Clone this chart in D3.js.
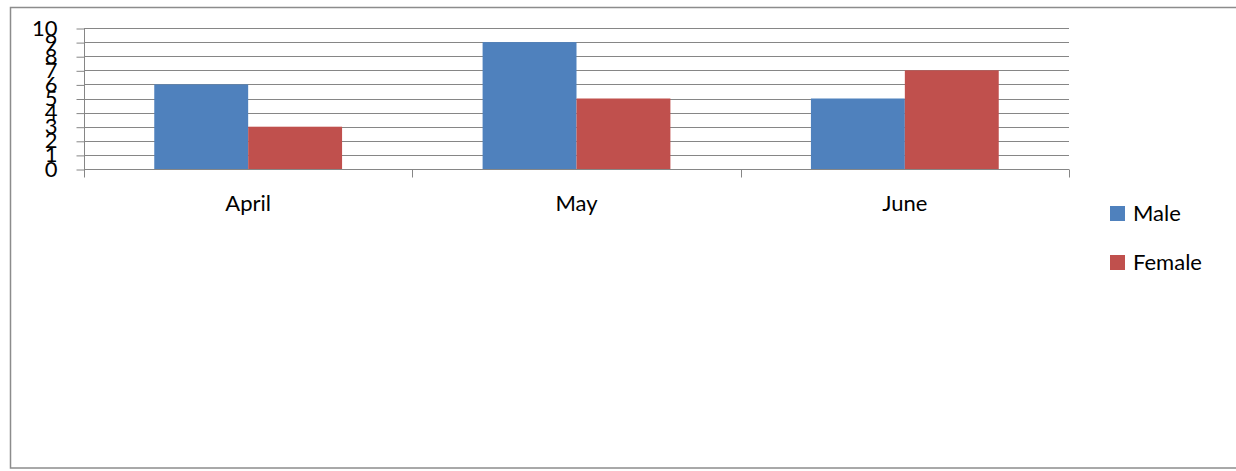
<!DOCTYPE html>
<html>
<head>
<meta charset="utf-8">
<script src="https://cdn.jsdelivr.net/npm/d3@7"></script>
<style>
  body { margin: 0; background: #fff; }
  text { font-family: Lato, "Open Sans", sans-serif; fill: #000; }
</style>
</head>
<body>
<div id="chart"></div>
<script>
// chart data
const months = ["April", "May", "June"];
const seriesNames = ["Male", "Female"];
const maleValues = [6, 9, 5];
const femaleValues = [3, 5, 7];
const yTicks = [0, 1, 2, 3, 4, 5, 6, 7, 8, 9, 10];
const colors = ["#4F81BD", "#C0504D"];

const width = 1236, height = 471;
var margin = {top: 28, left: 84, right: 1069, bottom: 169};

const rows = months.map((m, i) => ({month: m, values: [maleValues[i], femaleValues[i]]}));

var svg = d3.select("#chart")
    .append("svg")
    .attr("width", width)
    .attr("height", height);

// outer frame (right edge runs off the picture)
svg.append("rect")
    .attr("x", 10.5).attr("y", 7.5)
    .attr("width", 1240).attr("height", 460.5)
    .attr("fill", "none")
    .attr("stroke", "#8c8c8c")
    .attr("stroke-width", 1.5);

var x0 = d3.scaleBand()
    .domain(months)
    .range([margin.left, margin.right]);

var bw = x0.bandwidth();
var x1 = d3.scaleBand()
    .domain(seriesNames)
    .range([bw * 0.214, bw * 0.786]);

var y = d3.scaleLinear()
    .domain([0, 10])
    .range([margin.bottom, margin.top]);

// gridlines
svg.append("g")
    .selectAll("line")
    .data(yTicks.slice(1))
    .enter().append("line")
    .attr("x1", margin.left).attr("x2", margin.right)
    .attr("y1", d => Math.round(y(d)) + 0.5)
    .attr("y2", d => Math.round(y(d)) + 0.5)
    .attr("stroke", "#868686");

// bars
var groups = svg.selectAll("g.month")
    .data(rows)
    .enter().append("g")
    .attr("class", "month")
    .attr("transform", d => "translate(" + x0(d.month) + ",0)");

groups.selectAll("rect")
    .data(d => d.values.map((v, i) => ({name: seriesNames[i], value: v, i: i})))
    .enter().append("rect")
    .attr("x", d => x1(d.name))
    .attr("width", x1.bandwidth())
    .attr("y", d => y(d.value))
    .attr("height", d => y(0) - y(d.value))
    .attr("fill", d => colors[d.i]);

// left axis
var axisLeft = d3.axisLeft(y).tickValues(yTicks).tickSize(8).tickPadding(19);
var gy = svg.append("g")
    .attr("transform", "translate(" + (margin.left + 0.5) + ",0)")
    .call(axisLeft);
gy.select(".domain").attr("stroke", "#868686").attr("d", "M0," + margin.top + "V" + (margin.bottom + 0.5));
gy.selectAll(".tick line").attr("stroke", "#868686").attr("transform", "translate(0,0.5)");
gy.selectAll("text").attr("font-size", 22).attr("font-family", "Lato, sans-serif").attr("fill", "#000");

// bottom axis: ticks at category boundaries
var gx = svg.append("g")
    .attr("transform", "translate(0," + (margin.bottom + 0.5) + ")");
gx.append("line")
    .attr("x1", margin.left).attr("x2", margin.right)
    .attr("stroke", "#868686");
gx.selectAll("line.tick")
    .data(months.map(m => x0(m)).concat([margin.right]))
    .enter().append("line")
    .attr("class", "tick")
    .attr("x1", d => Math.round(d) + 0.5).attr("x2", d => Math.round(d) + 0.5)
    .attr("y1", 0).attr("y2", 8)
    .attr("stroke", "#868686");
gx.selectAll("text")
    .data(months)
    .enter().append("text")
    .attr("x", d => x0(d) + bw / 2)
    .attr("y", 41)
    .attr("text-anchor", "middle")
    .attr("font-size", 22)
    .text(d => d);

// legend
var legend = svg.append("g").attr("transform", "translate(1110,206)");
var items = legend.selectAll("g")
    .data(seriesNames)
    .enter().append("g")
    .attr("transform", (d, i) => "translate(0," + (i * 49) + ")");
items.append("rect")
    .attr("width", 15).attr("height", 15)
    .attr("fill", (d, i) => colors[i]);
items.append("text")
    .attr("x", 23).attr("y", 15)
    .attr("font-size", 22)
    .text(d => d);
</script>
</body>
</html>
